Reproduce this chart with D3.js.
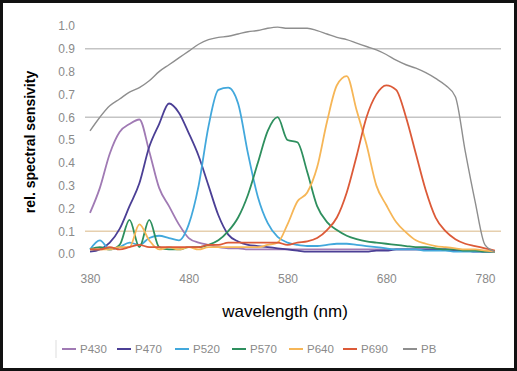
<!DOCTYPE html>
<html>
<head>
<meta charset="utf-8">
<script src="https://cdn.jsdelivr.net/npm/d3@7"></script>
<style>
body { margin: 0; background: #fff; }
svg { display: block; }
</style>
</head>
<body>
<svg id="canvas" width="517" height="371"></svg>
<script>
// wavelengths in nm, one value per series at each of them
var wavelengths = [380, 390, 400, 410, 420, 430, 440, 450, 460, 470, 480, 490, 500, 510, 520, 530, 540, 550, 560, 570,
	580, 590, 600, 610, 620, 630, 640, 650, 660, 670, 680, 690, 700, 710, 720, 730, 740, 750, 760, 770, 780, 790];

var p430 = [0.18, 0.29, 0.44, 0.535, 0.57, 0.59, 0.45, 0.29, 0.21, 0.13, 0.07, 0.05, 0.04, 0.03, 0.025, 0.025, 0.02, 0.02, 0.02, 0.02,
	0.02, 0.02, 0.02, 0.02, 0.02, 0.02, 0.02, 0.02, 0.02, 0.02, 0.02, 0.02, 0.02, 0.02, 0.02, 0.02, 0.02, 0.02, 0.015, 0.015, 0.01, 0.01];
var p470 = [0.01, 0.02, 0.05, 0.11, 0.21, 0.31, 0.47, 0.57, 0.66, 0.62, 0.53, 0.43, 0.30, 0.17, 0.085, 0.055, 0.04, 0.035, 0.03, 0.025,
	0.02, 0.015, 0.01, 0.01, 0.01, 0.01, 0.01, 0.01, 0.01, 0.015, 0.015, 0.02, 0.02, 0.02, 0.02, 0.02, 0.02, 0.015, 0.015, 0.01, 0.01, 0.01];
var p520 = [0.02, 0.06, 0.02, 0.03, 0.05, 0.04, 0.07, 0.08, 0.07, 0.06, 0.13, 0.30, 0.56, 0.72, 0.73, 0.66, 0.44, 0.25, 0.135, 0.075,
	0.05, 0.04, 0.035, 0.035, 0.04, 0.045, 0.045, 0.04, 0.035, 0.03, 0.025, 0.02, 0.02, 0.02, 0.015, 0.015, 0.015, 0.01, 0.01, 0.01, 0.01, 0.01];
var p570 = [0.02, 0.03, 0.02, 0.04, 0.15, 0.03, 0.15, 0.03, 0.02, 0.02, 0.03, 0.03, 0.04, 0.06, 0.10, 0.16, 0.26, 0.40, 0.54, 0.60,
	0.50, 0.49, 0.36, 0.21, 0.14, 0.105, 0.08, 0.065, 0.055, 0.05, 0.045, 0.04, 0.035, 0.03, 0.03, 0.025, 0.02, 0.02, 0.015, 0.015, 0.01, 0.01];
var p640 = [0.02, 0.02, 0.02, 0.03, 0.03, 0.13, 0.06, 0.02, 0.03, 0.02, 0.03, 0.02, 0.03, 0.03, 0.03, 0.03, 0.03, 0.03, 0.04, 0.05,
	0.13, 0.23, 0.27, 0.38, 0.58, 0.74, 0.78, 0.63, 0.48, 0.30, 0.215, 0.14, 0.095, 0.06, 0.045, 0.035, 0.03, 0.025, 0.02, 0.02, 0.015, 0.01];
var p690 = [0.02, 0.02, 0.03, 0.02, 0.03, 0.04, 0.03, 0.03, 0.03, 0.03, 0.03, 0.03, 0.04, 0.04, 0.05, 0.05, 0.05, 0.05, 0.05, 0.05,
	0.04, 0.05, 0.055, 0.07, 0.105, 0.16, 0.27, 0.43, 0.60, 0.70, 0.74, 0.72, 0.60, 0.44, 0.28, 0.16, 0.10, 0.065, 0.045, 0.035, 0.025, 0.015];
var pb = [0.54, 0.60, 0.65, 0.68, 0.71, 0.73, 0.76, 0.80, 0.83, 0.86, 0.89, 0.92, 0.94, 0.95, 0.955, 0.965, 0.975, 0.98, 0.99, 0.995,
	0.99, 0.99, 0.99, 0.98, 0.965, 0.95, 0.94, 0.925, 0.91, 0.895, 0.875, 0.85, 0.83, 0.815, 0.795, 0.77, 0.74, 0.69, 0.45, 0.23, 0.04, 0.01];

var seriesNames = ['P430', 'P470', 'P520', 'P570', 'P640', 'P690', 'PB'];
var seriesValues = [p430, p470, p520, p570, p640, p690, pb];
var seriesColors = ['#a07ab4', '#4b3f95', '#42a8dc', '#2e8f5e', '#f6b657', '#dc5a38', '#8e8e8e'];

var xTicks = [380, 480, 580, 680, 780];
var yTicks = [0, 0.1, 0.2, 0.3, 0.4, 0.5, 0.6, 0.7, 0.8, 0.9, 1.0];
var gridValues = [0.9, 0.6, 0.1];

var svg = d3.select('#canvas');

// outer frame
svg.append('rect')
	.attr('x', 1.5).attr('y', 1.5)
	.attr('width', 514).attr('height', 368)
	.attr('fill', '#fff')
	.attr('stroke', '#111')
	.attr('stroke-width', 3);

var x = d3.scaleLinear().domain([380, 780]).range([90, 485]);
var y = d3.scaleLinear().domain([0, 1]).range([254, 26]);

// horizontal grid lines
svg.append('g').selectAll('line')
	.data(gridValues)
	.enter()
	.append('line')
	.attr('x1', 85).attr('x2', 501)
	.attr('y1', d => y(d)).attr('y2', d => y(d))
	.attr('stroke', d => d === 0.1 ? '#e6cfae' : '#c4c4c4')
	.attr('stroke-width', 1.5);

// y axis, labels only
var yAxis = svg.append('g')
	.attr('transform', 'translate(79,0)')
	.call(d3.axisLeft(y).tickValues(yTicks).tickFormat(d3.format('.1f')).tickSize(0).tickPadding(4));
yAxis.select('.domain').remove();
yAxis.selectAll('text')
	.attr('fill', '#8a8a8a')
	.style('font', '12px "Liberation Sans", Arial, sans-serif');

// x axis, labels only
var xAxis = svg.append('g')
	.attr('transform', 'translate(0,268)')
	.call(d3.axisBottom(x).tickValues(xTicks).tickSize(0).tickPadding(6));
xAxis.select('.domain').remove();
xAxis.selectAll('text')
	.attr('fill', '#8a8a8a')
	.style('font', '12px "Liberation Sans", Arial, sans-serif');

// axis titles
svg.append('text')
	.attr('transform', 'translate(35,142) rotate(-90)')
	.attr('text-anchor', 'middle')
	.style('font', 'bold 14px "Liberation Sans", Arial, sans-serif')
	.attr('fill', '#000')
	.text('rel. spectral sensivity');

svg.append('text')
	.attr('x', 285).attr('y', 317)
	.attr('text-anchor', 'middle')
	.style('font', '17px "Liberation Sans", Arial, sans-serif')
	.attr('fill', '#000')
	.text('wavelength (nm)');

// the curves
var line = d3.line()
	.x(d => x(d.nm))
	.y(d => y(d.v))
	.curve(d3.curveMonotoneX);

var groupData = seriesNames.map(function (name, i) {
	return {
		name: name,
		color: seriesColors[i],
		points: wavelengths.map(function (nm, k) { return {nm: nm, v: seriesValues[i][k]}; })
	};
});

svg.append('g').selectAll('path')
	.data(groupData)
	.enter()
	.append('path')
	.attr('d', d => line(d.points))
	.attr('fill', 'none')
	.attr('stroke', d => d.color)
	.attr('stroke-width', d => d.name === 'PB' ? 1.4 : 1.8)
	.attr('stroke-linejoin', 'round');

// legend along the bottom
var legendX = [62, 117, 175, 232, 289, 343, 403];
var legend = svg.append('g').selectAll('g')
	.data(groupData)
	.enter()
	.append('g')
	.attr('transform', (d, i) => 'translate(' + legendX[i] + ',349)');
legend.append('line')
	.attr('x1', 0).attr('x2', 14)
	.attr('stroke', d => d.color)
	.attr('stroke-width', 2);
legend.append('text')
	.attr('x', 18).attr('dy', '0.35em')
	.attr('fill', '#8a8a8a')
	.style('font', '11.5px "Liberation Sans", Arial, sans-serif')
	.text(d => d.name);
svg.append('line')
	.attr('x1', 56).attr('x2', 56)
	.attr('y1', 340).attr('y2', 358)
	.attr('stroke', '#dddddd');
</script>
</body>
</html>
